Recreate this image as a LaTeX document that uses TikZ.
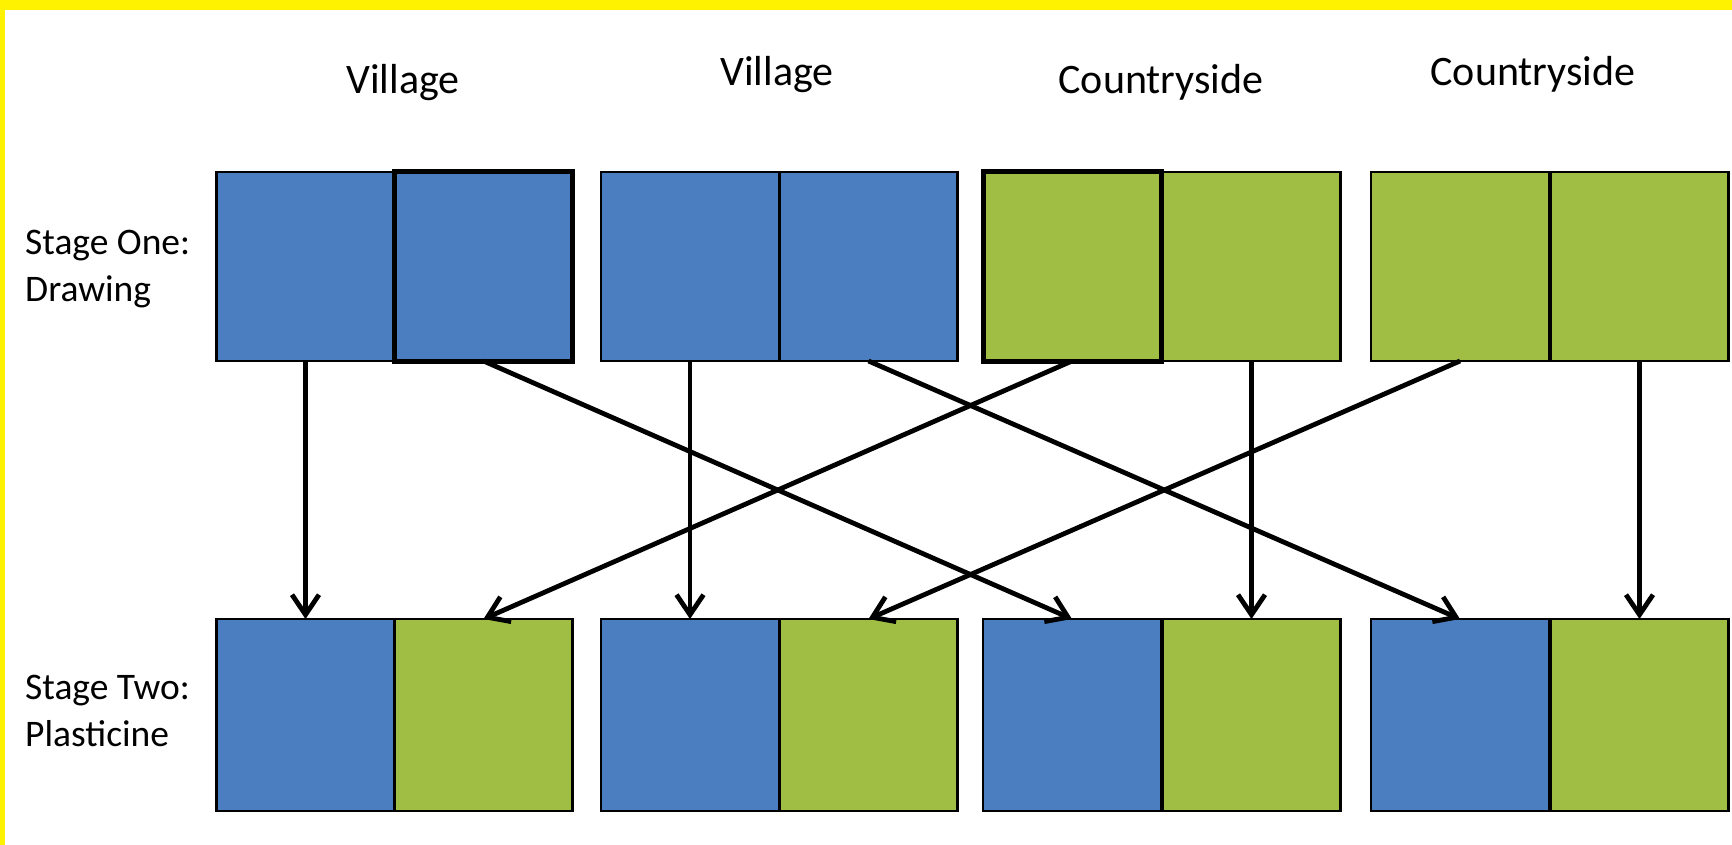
\documentclass[tikz,border=0pt]{standalone}
\usepackage{fontspec}
\setmainfont{Carlito}
\usetikzlibrary{arrows.meta}
\definecolor{sqblue}{RGB}{74,126,193}
\definecolor{sqgreen}{RGB}{161,190,68}
\definecolor{frameyellow}{RGB}{255,242,0}
\newcommand{\twolines}[2]{\begin{tabular}{@{}l@{}}#1\\#2\end{tabular}}
\begin{document}
\begin{tikzpicture}[x=1pt,y=-1pt,
  sq/.style={draw=black, line width=2.2pt, inner sep=0pt, outer sep=0pt, minimum width=178pt},
  toprow/.style={sq, minimum height=189pt},
  botrow/.style={sq, minimum height=192pt},
  thickbox/.style={line width=5pt},
  blue/.style={fill=sqblue},
  green/.style={fill=sqgreen},
  toplabel/.style={font=\fontsize{42}{50}\selectfont, anchor=base, inner sep=0pt},
  stagelabel/.style={font=\fontsize{37.5}{47}\selectfont, anchor=west, inner sep=0pt},
  flow/.style={draw=black, line width=4.8pt, -{Straight Barb[length=20pt,width=27pt]}}
]
\useasboundingbox (0,0) rectangle (1732,845);
\fill[white] (0,0) rectangle (1732,845);
\fill[frameyellow] (0,0) rectangle (1732,10);
\fill[frameyellow] (0,0) rectangle (5,845);

% column labels
\node[toplabel] (lab1) at (403,94) {Village};
\node[toplabel] (lab2) at (777,86) {Village};
\node[toplabel] (lab3) at (1161,94) {Countryside};
\node[toplabel] (lab4) at (1533,86) {Countryside};

% row labels
\node[stagelabel] (stage1) at (25,269) {\twolines{Stage One:}{Drawing}};
\node[stagelabel] (stage2) at (25,714) {\twolines{Stage Two:}{Plasticine}};

% stage one boxes
\node[toprow, blue] (t11) at (305.5,266.5) {};
\node[toprow, blue, thickbox] (t12) at (483.5,266.5) {};
\node[toprow, blue] (t21) at (690,266.5) {};
\node[toprow, blue] (t22) at (868.5,266.5) {};
\node[toprow, green] (t32) at (1251.5,266.5) {};
\node[toprow, green, thickbox] (t31) at (1072,266.5) {};
\node[toprow, green] (t41) at (1460,266.5) {};
\node[toprow, green] (t42) at (1639.5,266.5) {};

% stage two boxes
\node[botrow, blue] (b11) at (305.5,715) {};
\node[botrow, green] (b12) at (483.5,715) {};
\node[botrow, blue] (b21) at (690,715) {};
\node[botrow, green] (b22) at (868.5,715) {};
\node[botrow, blue] (b31) at (1072,715) {};
\node[botrow, green] (b32) at (1251.5,715) {};
\node[botrow, blue] (b41) at (1460,715) {};
\node[botrow, green] (b42) at (1639.5,715) {};

% connectors
\draw[flow] (t11.south) -- (b11.north);
\draw[flow] (t12.south) -- (b31.north);
\draw[flow] (t21.south) -- (b21.north);
\draw[flow] (t22.south) -- (b41.north);
\draw[flow] (t31.south) -- (b12.north);
\draw[flow] (t32.south) -- (b32.north);
\draw[flow] (t41.south) -- (b22.north);
\draw[flow] (t42.south) -- (b42.north);
\end{tikzpicture}
\end{document}
